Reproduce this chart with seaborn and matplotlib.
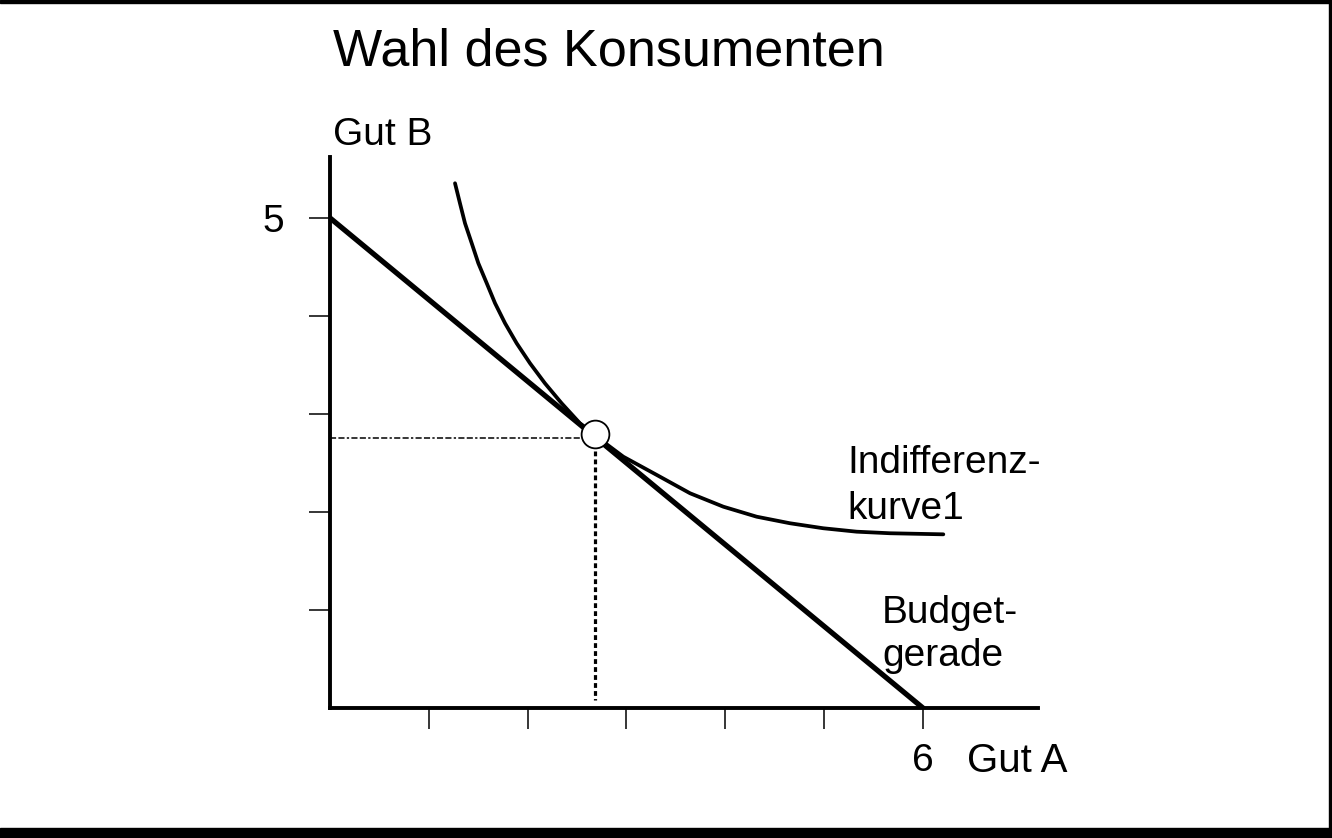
import matplotlib
matplotlib.use('Agg')
import matplotlib.pyplot as plt
import seaborn as sns
import pandas as pd
from matplotlib.patches import Rectangle

# Daten
budget_x = [0, 6]
budget_y = [5, 0]

indiff_x = [1.265, 1.315, 1.366, 1.434, 1.501, 1.586, 1.670, 1.771, 1.889,
            2.024, 2.175, 2.344, 2.529, 2.681, 2.765, 2.968, 3.306, 3.643,
            3.980, 4.317, 4.654, 4.991, 5.329, 5.666, 6.206]
indiff_y = [5.354, 5.150, 4.946, 4.742, 4.538, 4.334, 4.130, 3.926, 3.721,
            3.517, 3.313, 3.109, 2.905, 2.790, 2.717, 2.564, 2.378, 2.191,
            2.054, 1.952, 1.885, 1.834, 1.799, 1.783, 1.772]

opt_x = 2.68
opt_y = 2.77

x_ticks = [1, 2, 3, 4, 5, 6]
x_ticklabels = ['', '', '', '', '', '6']
y_ticks = [1, 2, 3, 4, 5]
y_ticklabels = ['', '', '', '', '5']

sns.set_style('ticks')
plt.rcParams['font.family'] = ['Liberation Sans', 'DejaVu Sans']
plt.rcParams['text.color'] = 'black'
plt.rcParams['xtick.labelcolor'] = 'black'
plt.rcParams['ytick.labelcolor'] = 'black'

fig = plt.figure(figsize=(13.32, 8.38), dpi=100)
ax = fig.add_axes([330 / 1332, 130 / 838, 708 / 1332, 551 / 838])

df_budget = pd.DataFrame({'x': budget_x, 'y': budget_y})
df_indiff = pd.DataFrame({'x': indiff_x, 'y': indiff_y})

sns.lineplot(data=df_budget, x='x', y='y', ax=ax, color='black', linewidth=3.8, sort=False)
sns.lineplot(data=df_indiff, x='x', y='y', ax=ax, color='black', linewidth=2.7, sort=False,
             solid_joinstyle='round')

# Hilfslinien
ax.plot([0, opt_x - 0.12], [opt_y - 0.02, opt_y - 0.02], color='black', linewidth=1.1,
        dashes=(4, 1.5, 4, 1.5, 1.5, 1.5))
ax.plot([opt_x, opt_x], [opt_y - 0.15, 0.08], color='black', linewidth=2.3, dashes=(1.5, 1))

ax.plot([opt_x], [opt_y + 0.03], marker='o', markersize=20, markerfacecolor='white',
        markeredgecolor='black', markeredgewidth=1.3, linestyle='none', zorder=5)

ax.set_xlim(0, 7.164)
ax.set_ylim(0, 5.622)
ax.set_xticks(x_ticks)
ax.set_xticklabels(x_ticklabels, fontsize=28)
ax.set_yticks(y_ticks)
ax.set_yticklabels(y_ticklabels, fontsize=28)
ax.tick_params(axis='x', length=15, width=1.1, pad=10, color='black')
ax.tick_params(axis='y', length=15, width=1.1, pad=18, color='black')
ax.set_xlabel('')
ax.set_ylabel('')
sns.despine(ax=ax)
for side in ['left', 'bottom']:
    ax.spines[side].set_linewidth(2.8)
    ax.spines[side].set_color('black')

# Beschriftungen
ax.text(0.03, 6.56, 'Wahl des Konsumenten', fontsize=37.5, va='baseline', ha='left', clip_on=False)
ax.text(0.03, 5.745, 'Gut B', fontsize=28, va='baseline', ha='left', clip_on=False)
ax.text(6.445, -0.653, 'Gut A', fontsize=29, va='baseline', ha='left', clip_on=False)
ax.text(5.231, 2.398, 'Indifferenz-', fontsize=28, va='baseline', ha='left', clip_on=False)
ax.text(5.231, 1.929, 'kurve1', fontsize=28, va='baseline', ha='left', clip_on=False)
ax.text(5.585, 0.867, 'Budget-', fontsize=28, va='baseline', ha='left', clip_on=False)
ax.text(5.585, 0.429, 'gerade', fontsize=28, va='baseline', ha='left', clip_on=False)

# Rahmen
fig.patches.append(Rectangle((0, 1 - 3 / 838), 1, 3 / 838, transform=fig.transFigure,
                             color='black', zorder=10))
fig.patches.append(Rectangle((1 - 3 / 1332, 0), 3 / 1332, 1, transform=fig.transFigure,
                             color='black', zorder=10))
fig.patches.append(Rectangle((0, 0), 1, 10 / 838, transform=fig.transFigure,
                             color='black', zorder=10))

fig.savefig('out.png', dpi=100)
